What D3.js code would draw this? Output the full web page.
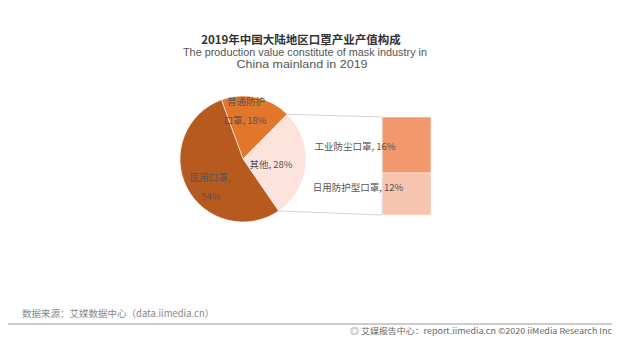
<!DOCTYPE html>
<html><head><meta charset="utf-8">
<script src="https://cdn.jsdelivr.net/npm/d3@7"></script>
<style>body{margin:0;background:#fff;}svg{display:block;font-family:"Noto Sans CJK SC","Noto Sans",sans-serif;}</style>
</head><body><svg id="c" width="629" height="348"></svg>
<script>
const pieCategories = ["普通防护口罩", "其他", "医用口罩"];
const pieValues = [18, 28, 54];
const barCategories = ["工业防尘口罩", "日用防护型口罩"];
const barValues = [16, 12];
const pieColors = ["#E2762B", "#FCE4DD", "#B65A20"];
const barColors = ["#F2986D", "#F7C4AF"];

const svg = d3.select("#c");
// Title
svg.append("text").attr("x", 301).attr("y", 44).attr("text-anchor", "middle")
  .attr("font-size", 11.5).attr("font-weight", "bold").attr("fill", "#333")
  .text("2019年中国大陆地区口罩产业产值构成");
svg.append("text").attr("x", 305).attr("y", 56).attr("text-anchor", "middle")
  .attr("font-size", 10).attr("fill", "#555").attr("font-family", "'Liberation Sans','DejaVu Sans',sans-serif")
  .attr("textLength", 244).attr("lengthAdjust", "spacingAndGlyphs")
  .text("The production value constitute of mask industry in");
svg.append("text").attr("x", 302).attr("y", 68).attr("text-anchor", "middle")
  .attr("font-size", 10).attr("fill", "#555").attr("font-family", "'Liberation Sans','DejaVu Sans',sans-serif")
  .attr("textLength", 131).attr("lengthAdjust", "spacingAndGlyphs")
  .text("China mainland in 2019");

const cx = 243, cy = 159, r = 63;
const start = -0.35;
const pie = d3.pie().sort(null).value(d => d).startAngle(start).endAngle(start + 2 * Math.PI);
const arcs = pie(pieValues);
const arc = d3.arc().innerRadius(0).outerRadius(r);
const g = svg.append("g").attr("transform", `translate(${cx},${cy})`);
g.selectAll("path").data(arcs).join("path")
  .attr("d", arc).attr("fill", (d, i) => pieColors[i])
  .attr("stroke", "#fff").attr("stroke-width", 0.6);

// bar (pie of pie)
const other = arcs[1];
const p1 = [cx + r * Math.sin(other.startAngle), cy - r * Math.cos(other.startAngle)];
const p2 = [cx + r * Math.sin(other.endAngle), cy - r * Math.cos(other.endAngle)];
const barX = 382, barW = 49, barTop = 117, barBot = 215;
const y = d3.scaleLinear().domain([0, d3.sum(barValues)]).range([barTop, barBot]);
let acc = 0;
const barData = barValues.map((v, i) => { const o = {v, i, y0: acc, y1: acc + v}; acc += v; return o; });
svg.append("g").selectAll("rect").data(barData).join("rect")
  .attr("x", barX).attr("width", barW)
  .attr("y", d => y(d.y0)).attr("height", d => y(d.y1) - y(d.y0))
  .attr("fill", d => barColors[d.i]).attr("stroke", "#fff").attr("stroke-width", 0.5);
svg.append("line").attr("x1", p1[0]).attr("y1", p1[1]).attr("x2", barX).attr("y2", barTop)
  .attr("stroke", "#d4d4d4").attr("stroke-width", 1);
svg.append("line").attr("x1", p2[0]).attr("y1", p2[1]).attr("x2", barX).attr("y2", barBot)
  .attr("stroke", "#d4d4d4").attr("stroke-width", 1);
svg.append("line").attr("x1", barX).attr("y1", barTop).attr("x2", barX).attr("y2", barBot)
  .attr("stroke", "#e4e4e4").attr("stroke-width", 1);

// labels
const lab = (x, yy, t, anchor) => svg.append("text").attr("x", x).attr("y", yy)
  .attr("text-anchor", anchor || "middle").attr("font-size", 9.5).attr("fill", "#555").text(t);
lab(246, 105, "普通防护");
lab(245, 124, "口罩, " + pieValues[0] + "%");
lab(271, 168, "其他, " + pieValues[1] + "%");
lab(210, 181, "医用口罩,");
lab(211, 200, pieValues[2] + "%");
lab(355, 150, barCategories[0] + ", " + barValues[0] + "%");
lab(358, 191, barCategories[1] + ", " + barValues[1] + "%");

// footer
svg.append("text").attr("x", 22).attr("y", 317).attr("font-size", 9.5).attr("fill", "#888")
  .text("数据来源：艾媒数据中心（data.iimedia.cn）");
svg.append("line").attr("x1", 8).attr("x2", 612).attr("y1", 324).attr("y2", 324)
  .attr("stroke", "#bbb").attr("stroke-width", 1.5);
svg.append("text").attr("x", 612).attr("y", 334).attr("text-anchor", "end").attr("font-size", 8).attr("fill", "#666")
  .attr("textLength", 262).attr("lengthAdjust", "spacingAndGlyphs")
  .text("◎ 艾媒报告中心：report.iimedia.cn  ©2020  iiMedia Research  Inc");
</script></body></html>
